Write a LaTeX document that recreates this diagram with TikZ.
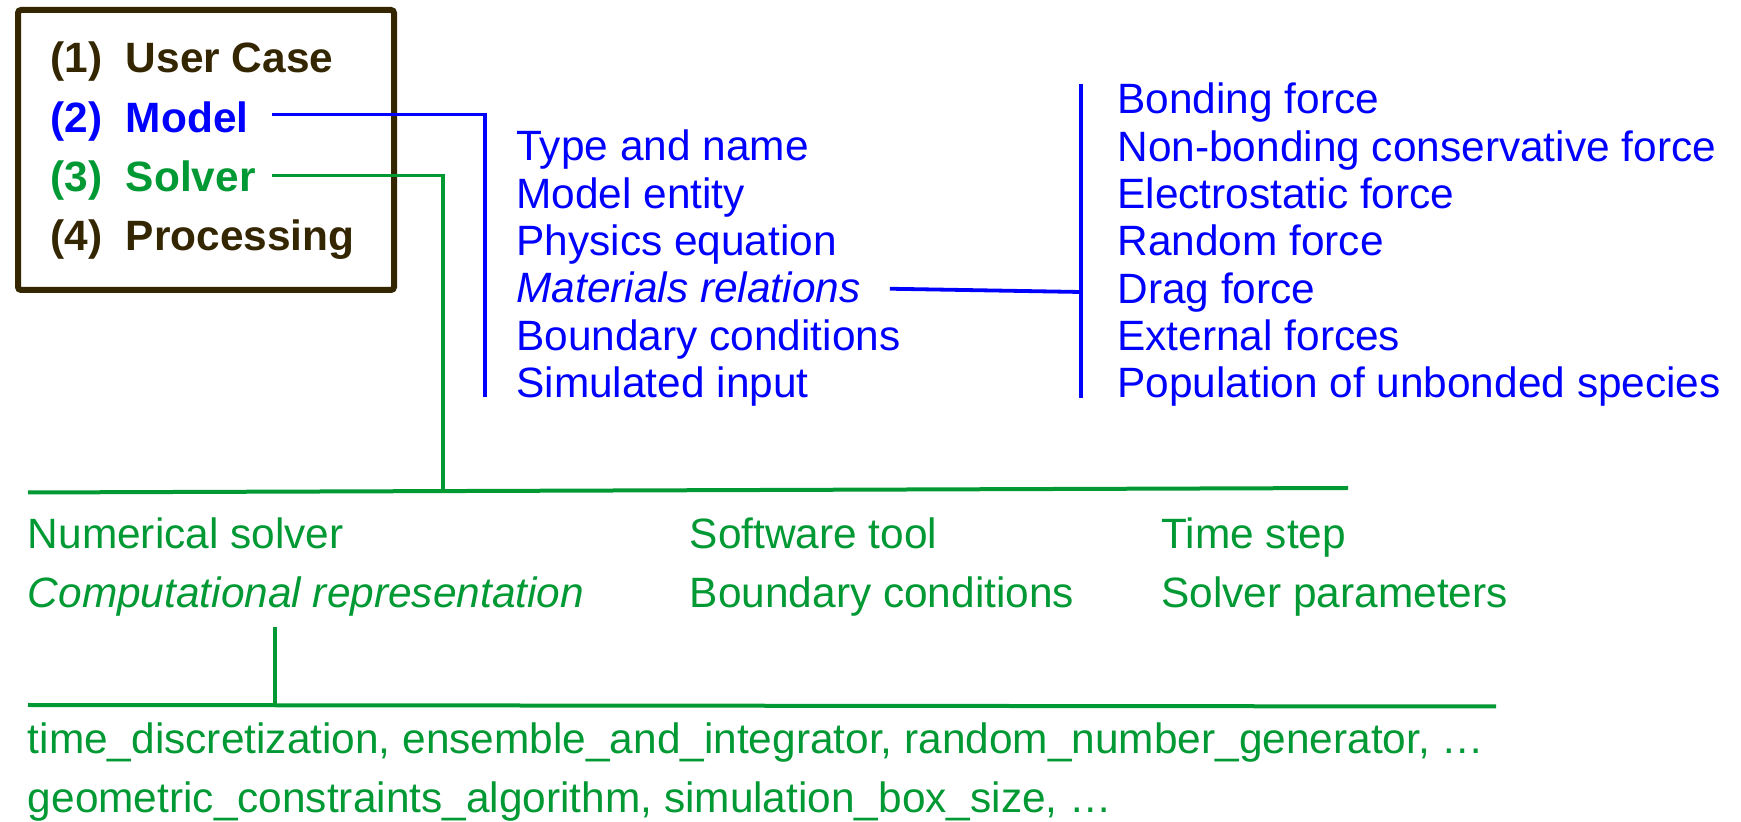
\documentclass[tikz,border=0pt]{standalone}
\usepackage{fontspec}
\setmainfont{Liberation Sans}
\definecolor{boxbrown}{RGB}{51,38,0}
\definecolor{mblue}{RGB}{0,0,255}
\definecolor{sgreen}{RGB}{0,153,51}
\begin{document}
\begin{tikzpicture}[x=0.5pt,y=-0.5pt,
  txt/.style={anchor=base west,inner sep=0pt,font=\fontsize{21.2}{25}\selectfont},
  btxt/.style={txt,font=\fontsize{21.2}{25}\selectfont\bfseries},
  bl/.style={draw=mblue,line width=1.6pt},
  blbar/.style={draw=mblue,line width=1.9pt},
  grn/.style={draw=sgreen,line width=1.6pt},
  grnbar/.style={draw=sgreen,line width=2pt}]
\useasboundingbox[fill=white] (0,0) rectangle (1741,822);

% legend box
\draw[boxbrown,line width=3pt,rounded corners=1.5pt] (18,10) rectangle (394,290);
\node[btxt,text=boxbrown] (n1) at (50,73) {(1)};
\node[btxt,text=boxbrown] (case) at (125.5,73) {User Case};
\node[btxt,text=mblue] (n2) at (50,132.5) {(2)};
\node[btxt,text=mblue] (model) at (125.5,132.5) {Model};
\node[btxt,text=sgreen] (n3) at (50,192) {(3)};
\node[btxt,text=sgreen] (solver) at (125.5,192) {Solver};
\node[btxt,text=boxbrown] (n4) at (50,251) {(4)};
\node[btxt,text=boxbrown] (proc) at (125.5,251) {Processing};

% model items
\node[txt,text=mblue] (m1) at (516,161) {Type and name};
\node[txt,text=mblue] (m2) at (516,208.3) {Model entity};
\node[txt,text=mblue] (m3) at (516,255.6) {Physics equation};
\node[txt,text=mblue] (m4) at (516,302.9) {\itshape Materials relations};
\node[txt,text=mblue] (m5) at (516,350.2) {Boundary conditions};
\node[txt,text=mblue] (m6) at (516,397.5) {Simulated input};

% force items
\node[txt,text=mblue] (f1) at (1117,114) {Bonding force};
\node[txt,text=mblue] (f2) at (1117,161.3) {Non-bonding conservative force};
\node[txt,text=mblue] (f3) at (1117,208.6) {Electrostatic force};
\node[txt,text=mblue] (f4) at (1117,255.9) {Random force};
\node[txt,text=mblue] (f5) at (1117,303.2) {Drag force};
\node[txt,text=mblue] (f6) at (1117,350.5) {External forces};
\node[txt,text=mblue] (f7) at (1117,397.8) {Population of unbonded species};

% solver items
\node[txt,text=sgreen] (s1) at (27.5,548.3) {Numerical solver};
\node[txt,text=sgreen] (s2) at (27.5,607.7) {\itshape Computational representation};
\node[txt,text=sgreen] (s3) at (689.5,548.3) {Software tool};
\node[txt,text=sgreen] (s4) at (689.5,607.7) {Boundary conditions};
\node[txt,text=sgreen] (s5) at (1161,548.3) {Time step};
\node[txt,text=sgreen] (s6) at (1161,607.7) {Solver parameters};

% representation details
\node[txt,text=sgreen] (r1) at (27.5,754) {time\_discretization, ensemble\_and\_integrator, random\_number\_generator, …};
\node[txt,text=sgreen] (r2) at (27.5,813) {geometric\_constraints\_algorithm, simulation\_box\_size, …};

% connector anchors
\coordinate (mbot) at (485,397.5);
\coordinate (ftop) at (1081,84);
\coordinate (fbot) at (1081,398);
\coordinate (fmid) at (1081,292);
\coordinate (gL) at (28,492.5);
\coordinate (gR) at (1348,488);
\coordinate (sjoin) at (443,491);
\coordinate (cTop) at (275,627);
\coordinate (cBot) at (275,705);
\coordinate (hL) at (28,705);
\coordinate (hR) at (1496,706.5);

% model branch
\draw[bl] ([xshift=11.5pt,yshift=1.5pt]model.east) -| (mbot);
\draw[blbar] ([xshift=14.5pt,yshift=-0.5pt]m4.east) -- (fmid);
\draw[blbar] (ftop) -- (fbot);

% solver branch
\draw[grn] ([xshift=8pt,yshift=0.5pt]solver.east) -| (sjoin);
\draw[grnbar] (gL) -- (gR);
\draw[grn] (cTop) -- (cBot);
\draw[grnbar] (hL) -- (hR);
\end{tikzpicture}
\end{document}
